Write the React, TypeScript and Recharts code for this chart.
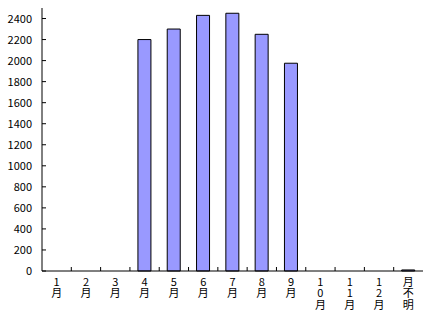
import { Bar, BarChart, XAxis, YAxis } from "recharts";

// 月別件数 — Excel 風の棒グラフ（枠線・内向き目盛り）
const MONTHS = ["1月", "2月", "3月", "4月", "5月", "6月", "7月", "8月", "9月", "10月", "11月", "12月", "月不明"];
const COUNTS = [0, 0, 0, 2200, 2300, 2430, 2450, 2250, 1975, 0, 0, 0, 10];
const Y_TICKS = [0, 200, 400, 600, 800, 1000, 1200, 1400, 1600, 1800, 2000, 2200, 2400];

const W = 430;
const H = 313;
const M = { top: 8, right: 7, left: 0, bottom: 0 };
const Y_W = 42;
const X_H = 42;
const BAND = (W - M.left - M.right - Y_W) / MONTHS.length;
const FONT = "'Noto Sans CJK JP', 'DejaVu Sans', sans-serif";

const data = MONTHS.map((m, i) => ({ m, v: COUNTS[i] }));

// 縦書きラベル（1文字ずつ縦に並ぶ）＋ 区切り位置の内向き目盛り
const XTick = ({ x, y, payload, index }: any) => (
  <g>
    {index < MONTHS.length - 1 && (
      <line x1={x + BAND / 2} x2={x + BAND / 2} y1={y} y2={y - 4} stroke="#000" />
    )}
    <text x={x} y={y + 5} fontSize={11} fontFamily={FONT} fill="#000" letterSpacing={0.5}
          style={{ writingMode: "vertical-rl", textOrientation: "upright" } as any}>
      {payload.value}
    </text>
  </g>
);

const YTick = ({ x, y, payload }: any) => (
  <g>
    <line x1={x + 10} x2={x + 14} y1={y} y2={y} stroke="#000" />
    <text x={x} y={y} dy={4} textAnchor="end" fontSize={11} fontFamily={FONT} fill="#000">
      {payload.value}
    </text>
  </g>
);

export default function App() {
  return (
    <div style={{ position: "absolute", left: 0, top: 0, width: W, height: H, background: "#fff" }}>
      <BarChart width={W} height={H} data={data} margin={M}>
        <XAxis dataKey="m" height={X_H} interval={0} tickSize={0} tickMargin={0}
               axisLine={{ stroke: "#000" }} tick={<XTick />} />
        <XAxis xAxisId="top" dataKey="m" orientation="top" height={0} tick={false} tickLine={false}
               axisLine={{ stroke: "#000" }} />
        <YAxis domain={[0, 2500]} ticks={Y_TICKS} width={Y_W} tickSize={0} tickMargin={10}
               axisLine={{ stroke: "#000" }} tick={<YTick />} interval={0} />
        <YAxis yAxisId="right" orientation="right" width={0} domain={[0, 2500]} tick={false} tickLine={false}
               axisLine={{ stroke: "#000" }} />
        <Bar dataKey="v" fill="#9999FF" stroke="#000" strokeWidth={1} barSize={13} isAnimationActive={false} />
      </BarChart>
    </div>
  );
}
